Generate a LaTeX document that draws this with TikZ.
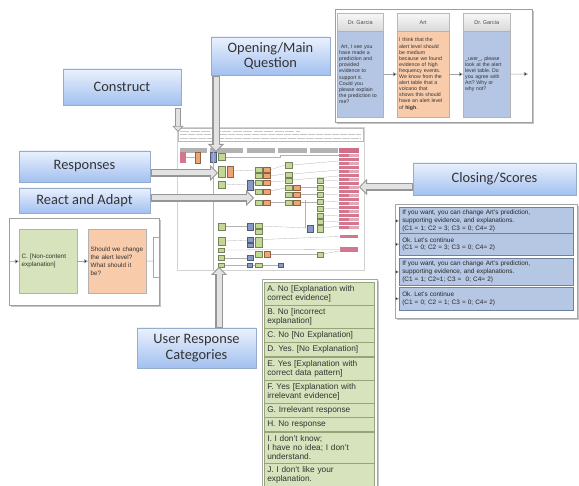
\documentclass[tikz,border=0pt]{standalone}
\usepackage{fontspec}
\setmainfont{Liberation Sans}
\newfontfamily\labfont{Carlito}
\usetikzlibrary{arrows.meta,shadows}
\frenchspacing

\definecolor{labtop}{RGB}{234,241,253}
\definecolor{labbot}{RGB}{162,192,240}
\definecolor{labline}{RGB}{150,172,205}
\definecolor{bodyblue}{RGB}{180,198,228}
\definecolor{peach}{RGB}{248,203,170}
\definecolor{sage}{RGB}{214,227,188}
\definecolor{sageline}{RGB}{150,165,120}
\definecolor{listblue}{RGB}{182,199,228}
\definecolor{listline}{RGB}{110,128,160}
\definecolor{cgreen}{RGB}{196,216,150}
\definecolor{corange}{RGB}{236,165,115}
\definecolor{cblue}{RGB}{135,155,198}
\definecolor{cpink}{RGB}{200,85,115}
\definecolor{arrgray}{RGB}{150,150,150}
\definecolor{arrfill}{RGB}{226,226,226}

\tikzset{
 lab/.style={draw=labline, line width=0.5pt, top color=labtop, bottom color=labbot,
   font=\labfont\fontsize{14.4}{15.5}\selectfont, align=center, inner sep=0pt, text=black!80,
   drop shadow={shadow xshift=1pt, shadow yshift=-1pt, opacity=0.25}},
 bigarrow/.style={draw=arrgray, line width=7.5pt,
   -{Triangle[length=8pt,width=16pt,fill=arrfill,line width=0.8pt]},
   postaction={draw=arrfill, line width=5pt, -, shorten >=7.4pt, shorten <=0.8pt}},
 smallarrow/.style={draw=arrgray, line width=6pt,
   -{Triangle[length=6pt,width=11pt,fill=arrfill,line width=0.7pt]},
   postaction={draw=arrfill, line width=3.8pt, -, shorten >=5.5pt, shorten <=0.7pt}},
 sarrow/.style={draw=gray!70, line width=0.6pt, -{Triangle[length=4pt,width=4pt,fill=black]}},
 panel/.style={draw=gray!75, line width=0.8pt, fill=white, anchor=north west, inner sep=0pt,
   drop shadow={shadow xshift=1.5pt, shadow yshift=-1.5pt, opacity=0.45}},
 phead/.style={draw=gray!55, line width=0.4pt, top color=gray!6, bottom color=gray!30,
   minimum height=18pt, inner sep=0pt, font=\fontsize{5.5}{6}\selectfont, anchor=north west, text=black!70},
 pbody/.style={draw=gray!60, line width=0.4pt, minimum height=86pt, inner sep=2pt, align=left,
   font=\fontsize{5.2}{6.1}\selectfont, anchor=north west, text=black!80},
 glist/.style={draw=sageline, line width=0.5pt, fill=sage, minimum width=110pt, text width=104pt,
   inner sep=3pt, align=left, anchor=north west, font=\fontsize{8.3}{9.3}\selectfont, text=black!80},
 rlist/.style={draw=listline, line width=0.5pt, fill=listblue, minimum width=174pt, text width=168pt,
   inner sep=3pt, align=left, anchor=north west, font=\fontsize{6.4}{7.7}\selectfont, text=black!85},
 gb/.style={fill=cgreen, draw=cgreen!60!black, line width=0.2pt},
 ob/.style={fill=corange, draw=corange!60!black, line width=0.2pt},
 bb/.style={fill=cblue, draw=cblue!60!black, line width=0.2pt},
 pb/.style={fill=cpink!80},
 cl/.style={draw=gray!60, line width=0.3pt},
}

\begin{document}
\begin{tikzpicture}[x=1pt,y=-1pt]
\useasboundingbox (0,0) rectangle (579,486);
\fill[white] (0,0) rectangle (579,486);

% ---------- central flow chart (thumbnail) ----------
\draw[gray!35, line width=0.4pt] (177,127) rectangle (364,270);
\draw[gray!55, line width=0.4pt] (178,128) rectangle (363,141);
\draw[gray!45, line width=0.6pt, dash pattern=on 9pt off 1.5pt] (180,131) -- (300,131);
\draw[gray!45, line width=0.6pt, dash pattern=on 7pt off 1pt] (180,134.5) -- (361,134.5);
\draw[gray!45, line width=0.6pt, dash pattern=on 8pt off 1pt] (180,138) -- (361,138);
\foreach \a/\b in {180/207,210/243,247/275,278/307,310/338}
  \fill[gray!60] (\a,148) rectangle (\b,153);
\fill[cpink!85] (339,148) rectangle (359,153);
\foreach \i in {0,...,18}
  \fill[pb] (339,154+4*\i) rectangle (359,156.6+4*\i);
\foreach \i in {0,2,...,18}
  \fill[white, opacity=0.35] (349,154+4*\i) rectangle (359,156.6+4*\i);
\fill[pb] (340,235) rectangle (358,238);
\fill[pb] (340,247) rectangle (358,252);
% connectors
\draw[cl] (225,157) -- (280,157) -- (280,155) -- (339,155);
\draw[cl] (233,171) -- (255,170);
\draw[cl] (225,184) -- (247,185);
\draw[cl] (253,185) -- (255,182);
\draw[cl] (253,186) -- (255,191);
\draw[cl] (270,170) -- (285,165);
\draw[cl] (270,176) -- (285,174);
\draw[cl] (270,182) -- (285,181);
\draw[cl] (270,191) -- (285,188);
\draw[cl] (270,202) -- (285,202);
\foreach \y in {165,174,180}
  \draw[cl] (292,\y) -- (339,\y-4);
\foreach \y in {187,194,202}
  \draw[cl] (300,\y) -- (317,\y);
\foreach \y in {180,187,194,201,208,215,221}
  \draw[cl] (323,\y) -- (339,\y+1);
\draw[cl] (305,200) -- (305,228);
\draw[cl] (225,226) -- (247,226);
\draw[cl] (262,226) -- (307,228);
\draw[cl] (323,228) -- (339,226);
\draw[cl] (225,241) -- (339,236.5);
\draw[cl] (225,250) -- (339,249.5);
\draw[cl] (270,254) -- (317,254);
\draw[cl] (323,254) -- (339,251);
\draw[cl] (225,258) -- (247,258);
\draw[cl] (225,265) -- (278,265);
% boxes
\fill[pb] (180,152) rectangle (186,163);
\draw[ob] (195,152) rectangle (200,163);
\draw[cl] (186,157) -- (195,157);
\draw[bb] (210,152) rectangle (216,162);
\draw[gb] (218,153) rectangle (225,160);
\draw[gb] (218,166) rectangle (225,177);
\draw[ob] (227,166) rectangle (233,177);
\draw[gb] (218,181) rectangle (225,188);
\draw[bb] (247,180) rectangle (253,190);
\foreach \a/\b in {167/172,173/178,180/185,189/194,200/205}{
  \draw[gb] (255,\a) rectangle (262,\b);
  \draw[ob] (263,\a) rectangle (270,\b);}
\foreach \a/\b in {162/168,172/177,178/183,185/190,192/197,200/205}
  \draw[gb] (285,\a) rectangle (292,\b);
\foreach \a/\b in {185/190,192/197,200/205}
  \draw[ob] (293,\a) rectangle (300,\b);
\foreach \a/\b in {178/183,185/190,192/197,199/204,206/211,213/218,219/224}
  \draw[gb] (317,\a) rectangle (323,\b);
\draw[gb] (218,223) rectangle (225,230);
\draw[bb] (247,223) rectangle (253,230);
\draw[gb] (255,223) rectangle (262,228);
\draw[gb] (255,229) rectangle (262,234);
\draw[bb] (307,225) rectangle (313,232);
\draw[gb] (317,225) rectangle (323,232);
\draw[gb] (218,237) rectangle (225,245);
\draw[bb] (247,237) rectangle (253,242);
\draw[bb] (247,243) rectangle (253,247);
\draw[gb] (255,237) rectangle (262,247);
\draw[gb] (218,248) rectangle (224,252);
\draw[gb] (255,251) rectangle (262,257);
\draw[ob] (264,251) rectangle (270,257);
\draw[gb] (317,252) rectangle (323,257);
\draw[gb] (218,255) rectangle (224,260);
\draw[bb] (247,255) rectangle (253,260);
\draw[gb] (218,263) rectangle (224,267);
\draw[bb] (247,263) rectangle (252,267);
\draw[gb] (255,263) rectangle (262,267);
\draw[bb] (278,263) rectangle (283,267);
\draw[gray!60, line width=0.8pt] (213,148) -- (213,270);

% ---------- top-right dialogue panel ----------
\node[panel, minimum width=197pt, minimum height=113pt] (tpanel) at (335,9) {};
\node[phead, minimum width=46pt] (h1) at (337,13) {Dr. Garcia};
\node[phead, minimum width=52pt] (h2) at (397,13) {Art};
\node[phead, minimum width=47pt] (h3) at (463,13) {Dr. Garcia};
\node[pbody, fill=bodyblue, minimum width=46pt, text width=42pt] (b1) at (337,31)
  {\ Art, I see you\\have made a\\prediction and\\provided\\evidence to\\support it.\\Could you\\please explain\\the prediction to\\me?};
\node[pbody, fill=peach, minimum width=52pt, text width=48pt] (b2) at (397,31)
  {I think that the\\alert level should\\be medium\\because we found\\evidence of high\\frequency events.\\We know from the\\alert table that a\\volcano that\\shows this should\\have an alert level\\of \textbf{high}.};
\node[pbody, fill=bodyblue, minimum width=47pt, text width=43pt] (b3) at (463,31)
  {\_user\_, please\\look at the alert\\level table. Do\\you agree with\\Art? Why or\\why not?};
\coordinate (tend) at (528,74);
\draw[sarrow] (b1.east) -- (b2.west);
\draw[sarrow] (b2.east) -- (b3.west);
\draw[sarrow] (b3.east) -- (tend);

% ---------- left example panel ----------
\node[panel, minimum width=150pt, minimum height=87pt] (lpanel) at (9,218) {};
\node[draw=gray!60, line width=0.4pt, fill=sage, minimum width=58pt, minimum height=64pt, text width=53pt,
  inner sep=2.5pt, align=left, anchor=north west, font=\fontsize{6.3}{7.8}\selectfont, text=black!80]
  (lg) at (19,229) {C. [Non-content\\explanation]};
\node[draw=gray!60, line width=0.4pt, fill=peach, minimum width=58pt, minimum height=64pt, text width=53pt,
  inner sep=2.5pt, align=left, anchor=north west, font=\fontsize{6.3}{7.8}\selectfont, text=black!80]
  (lo) at (88,229) {Should we change\\the alert level?\\What should it\\be?};
\draw[sarrow] (lpanel.west) -- (lg.west);
\draw[sarrow] (lg.east) -- (lo.west);
\coordinate (bk) at (153,261);
\draw[gray!70, line width=0.5pt] (lo.east) -- (bk);
\draw[gray!70, line width=0.5pt] (159,237) -- (153,237) -- (153,277) -- (159,277);

% ---------- right closing list ----------
\node[panel, draw=gray!70, line width=0.6pt, minimum width=182pt, minimum height=114pt] (rpanel) at (395,204) {};
\node[rlist, minimum height=23pt] (r1) at (399,207)
  {If you want, you can change Art's prediction,\\supporting evidence, and explanations.\\(C1 = 1; C2 = 3; C3 = 0; C4= 2)};
\node[rlist, minimum height=22pt] (r2) at (399,233)
  {Ok. Let's continue\\(C1 = 0; C2 = 3; C3 = 0; C4= 2)};
\node[rlist, minimum height=23pt] (r3) at (399,258)
  {If you want, you can change Art's prediction,\\supporting evidence, and explanations.\\(C1 = 1; C2=1; C3 =\ \ 0; C4= 2)};
\node[rlist, minimum height=23pt] (r4) at (399,287)
  {Ok. Let's continue\\(C1 = 0; C2 = 1; C3 = 0; C4= 2)};
\foreach \r in {r1,r2,r3,r4}
  \draw[sarrow] (rpanel.west |- \r.west) -- (\r.west);

% ---------- user response categories list ----------
\node[panel, draw=gray!70, line width=0.6pt, minimum width=115pt, minimum height=212pt] (gpanel) at (262,279) {};
\node[glist, minimum height=22pt] (ga) at (264,282) {A. No [Explanation with\\correct evidence]};
\node[glist, minimum height=22pt] (gbx) at (264,305) {B. No [incorrect\\explanation]};
\node[glist, minimum height=13pt] (gc) at (264,328) {C. No [No Explanation]};
\node[glist, minimum height=14pt] (gd) at (264,342) {D. Yes. [No Explanation]};
\node[glist, minimum height=22pt] (ge) at (264,357) {E. Yes [Explanation with\\correct data pattern]};
\node[glist, minimum height=22pt] (gf) at (264,380) {F. Yes [Explanation with\\irrelevant evidence]};
\node[glist, minimum height=13pt] (gg) at (264,403) {G. Irrelevant response};
\node[glist, minimum height=14pt] (gh) at (264,417) {H. No response};
\node[glist, minimum height=30pt] (gi) at (264,432) {I. I don't know;\\I have no idea; I don't\\understand.};
\node[glist, minimum height=22pt] (gj) at (264,463) {J. I don't like your\\explanation.};

% ---------- labels ----------
\node[lab, minimum width=118pt, minimum height=36pt] (construct) at (122,87) {Construct};
\node[lab, minimum width=119pt, minimum height=38pt] (opening) at (270.5,56) {Opening/Main\\Question};
\node[lab, minimum width=131pt, minimum height=31pt] (responses) at (84.5,166.5) {Responses};
\node[lab, minimum width=131pt, minimum height=25pt] (react) at (84.5,200.5) {React and Adapt};
\node[lab, minimum width=163pt, minimum height=32pt] (closing) at (494.5,179) {Closing/Scores};
\node[lab, minimum width=119pt, minimum height=40pt] (usercat) at (196.5,348) {User Response\\Categories};

% ---------- big arrows ----------
\coordinate (c1) at (178,108);  \coordinate (c2) at (178,132);
\coordinate (o1) at (216,76);   \coordinate (o2) at (216,152);
\coordinate (s1) at (151,173);  \coordinate (s2) at (218,173);
\coordinate (a1) at (151,198);  \coordinate (a2) at (254,198);
\coordinate (k1) at (413,187);  \coordinate (k2) at (359,187);
\coordinate (u1) at (219,328);  \coordinate (u2) at (219,267);
\draw[smallarrow] (c1) -- (c2);
\draw[bigarrow] (o1) -- (o2);
\draw[bigarrow] (s1) -- (s2);
\draw[bigarrow] (a1) -- (a2);
\draw[bigarrow] (k1) -- (k2);
\draw[bigarrow] (u1) -- (u2);
\end{tikzpicture}
\end{document}
